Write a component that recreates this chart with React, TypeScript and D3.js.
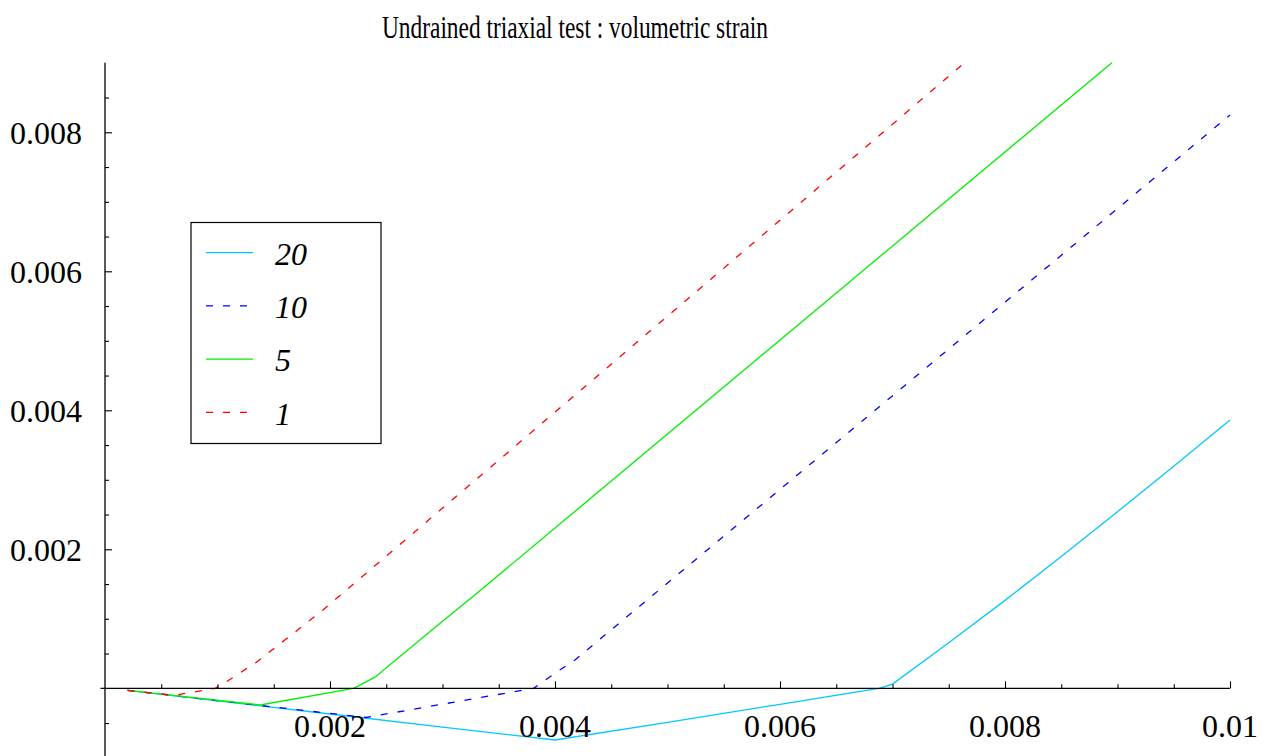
import React, { useEffect, useRef } from 'react';
import * as d3 from 'd3';

const W = 1270, H = 756;
const FONT = "'Liberation Serif', 'DejaVu Serif', serif";

const titleText = 'Undrained triaxial test : volumetric strain';

// axial strain (x) and volumetric strain (y)
const eps20 = [0.0002, 0.001, 0.002, 0.003, 0.004, 0.005, 0.006, 0.00688, 0.007, 0.0075, 0.008, 0.0085, 0.009, 0.0095, 0.01];
const ev20 = [-0.00003, -0.00018, -0.00037, -0.00056, -0.000744, -0.00049, -0.00023, 0, 0.00006, 0.000655, 0.001265, 0.001895, 0.00254, 0.003195, 0.00386];

const eps10 = [0.0002, 0.00232, 0.00381, 0.00403, 0.00418, 0.01];
const ev10 = [-0.00003, -0.00042, 0, 0.00025, 0.00041, 0.00825];

const eps5 = [0.0002, 0.00138, 0.00221, 0.0024, 0.0029, 0.0033, 0.00895];
const ev5 = [-0.00003, -0.00024, 0, 0.00016, 0.00083, 0.00136, 0.009];

const eps1 = [0.0002, 0.00062, 0.00098, 0.00108, 0.00135, 0.00169, 0.00194, 0.00239, 0.00764];
const ev1 = [-0.00003, -0.0001, 0, 0.000095, 0.00038, 0.00081, 0.00113, 0.00175, 0.009];

const legendLabels = ['20', '10', '5', '1'];
const seriesColors = ['#00c8ff', '#0000ff', '#00f000', '#ff0000'];
const seriesDash = [null, '7,10', null, '7,10'];

const xMajor = [0.002, 0.004, 0.006, 0.008, 0.01];
const xLabels = ['0.002', '0.004', '0.006', '0.008', '0.01'];
const xMinor = [0.0005, 0.001, 0.0015, 0.0025, 0.003, 0.0035, 0.0045, 0.005, 0.0055, 0.0065, 0.007, 0.0075, 0.0085, 0.009, 0.0095];
const yMajor = [0.002, 0.004, 0.006, 0.008];
const yLabels = ['0.002', '0.004', '0.006', '0.008'];
const yMinor = [-0.0005, 0.0005, 0.001, 0.0015, 0.0025, 0.003, 0.0035, 0.0045, 0.005, 0.0055, 0.0065, 0.007, 0.0075, 0.0085];

const App: React.FC = () => {
  const ref = useRef<HTMLDivElement>(null);

  useEffect(() => {
    d3.select(ref.current).selectAll('*').remove();

    const svg = d3.select(ref.current).append('svg')
      .attr('width', W)
      .attr('height', H)
      .style('display', 'block');

    svg.append('rect').attr('width', W).attr('height', H).attr('fill', 'white');

    const x = d3.scaleLinear().domain([0, 0.01]).range([105, 1230]);
    const y = d3.scaleLinear().domain([-0.001, 0.009]).range([757.8, 62.8]);

    // title
    svg.append('text')
      .attr('x', 382)
      .attr('y', 38)
      .attr('font-family', FONT)
      .attr('font-size', 32)
      .attr('textLength', 386)
      .attr('lengthAdjust', 'spacingAndGlyphs')
      .text(titleText);

    // curves
    const series = [[eps20, ev20], [eps10, ev10], [eps5, ev5], [eps1, ev1]];
    const line = d3.line<[number, number]>().x(d => x(d[0])).y(d => y(d[1]));
    series.forEach(([xs, ys], i) => {
      const pts = xs.map((v, j) => [v, ys[j]] as [number, number]);
      svg.append('path')
        .attr('d', line(pts))
        .attr('fill', 'none')
        .attr('stroke', seriesColors[i])
        .attr('stroke-width', 1.3)
        .attr('stroke-dasharray', seriesDash[i]);
    });

    // x axis (ticks pointing up)
    const y0 = y(0);
    const xAxisMajor = svg.append('g').attr('transform', `translate(0,${y0})`)
      .call(d3.axisTop(x).tickValues(xMajor).tickSize(7).tickFormat(() => ''));
    const xAxisMinor = svg.append('g').attr('transform', `translate(0,${y0})`)
      .call(d3.axisTop(x).tickValues(xMinor).tickSize(4).tickFormat(() => ''));
    [xAxisMajor, xAxisMinor].forEach(g => g.select('.domain').remove());
    svg.append('line')
      .attr('x1', x(-0.00004)).attr('x2', x(0.01))
      .attr('y1', y0).attr('y2', y0)
      .attr('stroke', 'black').attr('stroke-width', 1.3);

    svg.append('g').selectAll('text')
      .data(xMajor)
      .enter().append('text')
      .attr('x', d => x(d))
      .attr('y', y0 + 48.5)
      .attr('text-anchor', 'middle')
      .attr('font-family', FONT)
      .attr('font-size', 32)
      .text((d, i) => xLabels[i]);

    // y axis (ticks pointing right)
    const x0 = x(0);
    const yAxisMajor = svg.append('g').attr('transform', `translate(${x0},0)`)
      .call(d3.axisRight(y).tickValues(yMajor).tickSize(7).tickFormat(() => ''));
    const yAxisMinor = svg.append('g').attr('transform', `translate(${x0},0)`)
      .call(d3.axisRight(y).tickValues(yMinor).tickSize(4).tickFormat(() => ''));
    [yAxisMajor, yAxisMinor].forEach(g => g.select('.domain').remove());
    svg.append('line')
      .attr('x1', x0).attr('x2', x0)
      .attr('y1', y(0.009)).attr('y2', H)
      .attr('stroke', 'black').attr('stroke-width', 1.3);

    svg.append('g').selectAll('text')
      .data(yMajor)
      .enter().append('text')
      .attr('x', 82)
      .attr('y', d => y(d) + 11.5)
      .attr('text-anchor', 'end')
      .attr('font-family', FONT)
      .attr('font-size', 32)
      .text((d, i) => yLabels[i]);

    svg.selectAll('.tick line').attr('stroke', 'black').attr('stroke-width', 1.1);

    // legend
    const lg = svg.append('g');
    lg.append('rect')
      .attr('x', 191).attr('y', 222.5)
      .attr('width', 190).attr('height', 221)
      .attr('fill', 'white').attr('stroke', 'black').attr('stroke-width', 1.2);
    legendLabels.forEach((lab, i) => {
      const ly = 252.7 + i * 53.2;
      lg.append('line')
        .attr('x1', 206).attr('x2', 253)
        .attr('y1', ly).attr('y2', ly)
        .attr('stroke', seriesColors[i])
        .attr('stroke-width', 1.3)
        .attr('stroke-dasharray', seriesDash[i]);
      lg.append('text')
        .attr('x', 275)
        .attr('y', ly + 12.3)
        .attr('font-family', FONT)
        .attr('font-size', 32)
        .attr('font-style', 'italic')
        .text(lab);
    });
  }, []);

  return <div ref={ref} style={{ position: 'absolute', left: 0, top: 0 }} />;
};

export default App;
